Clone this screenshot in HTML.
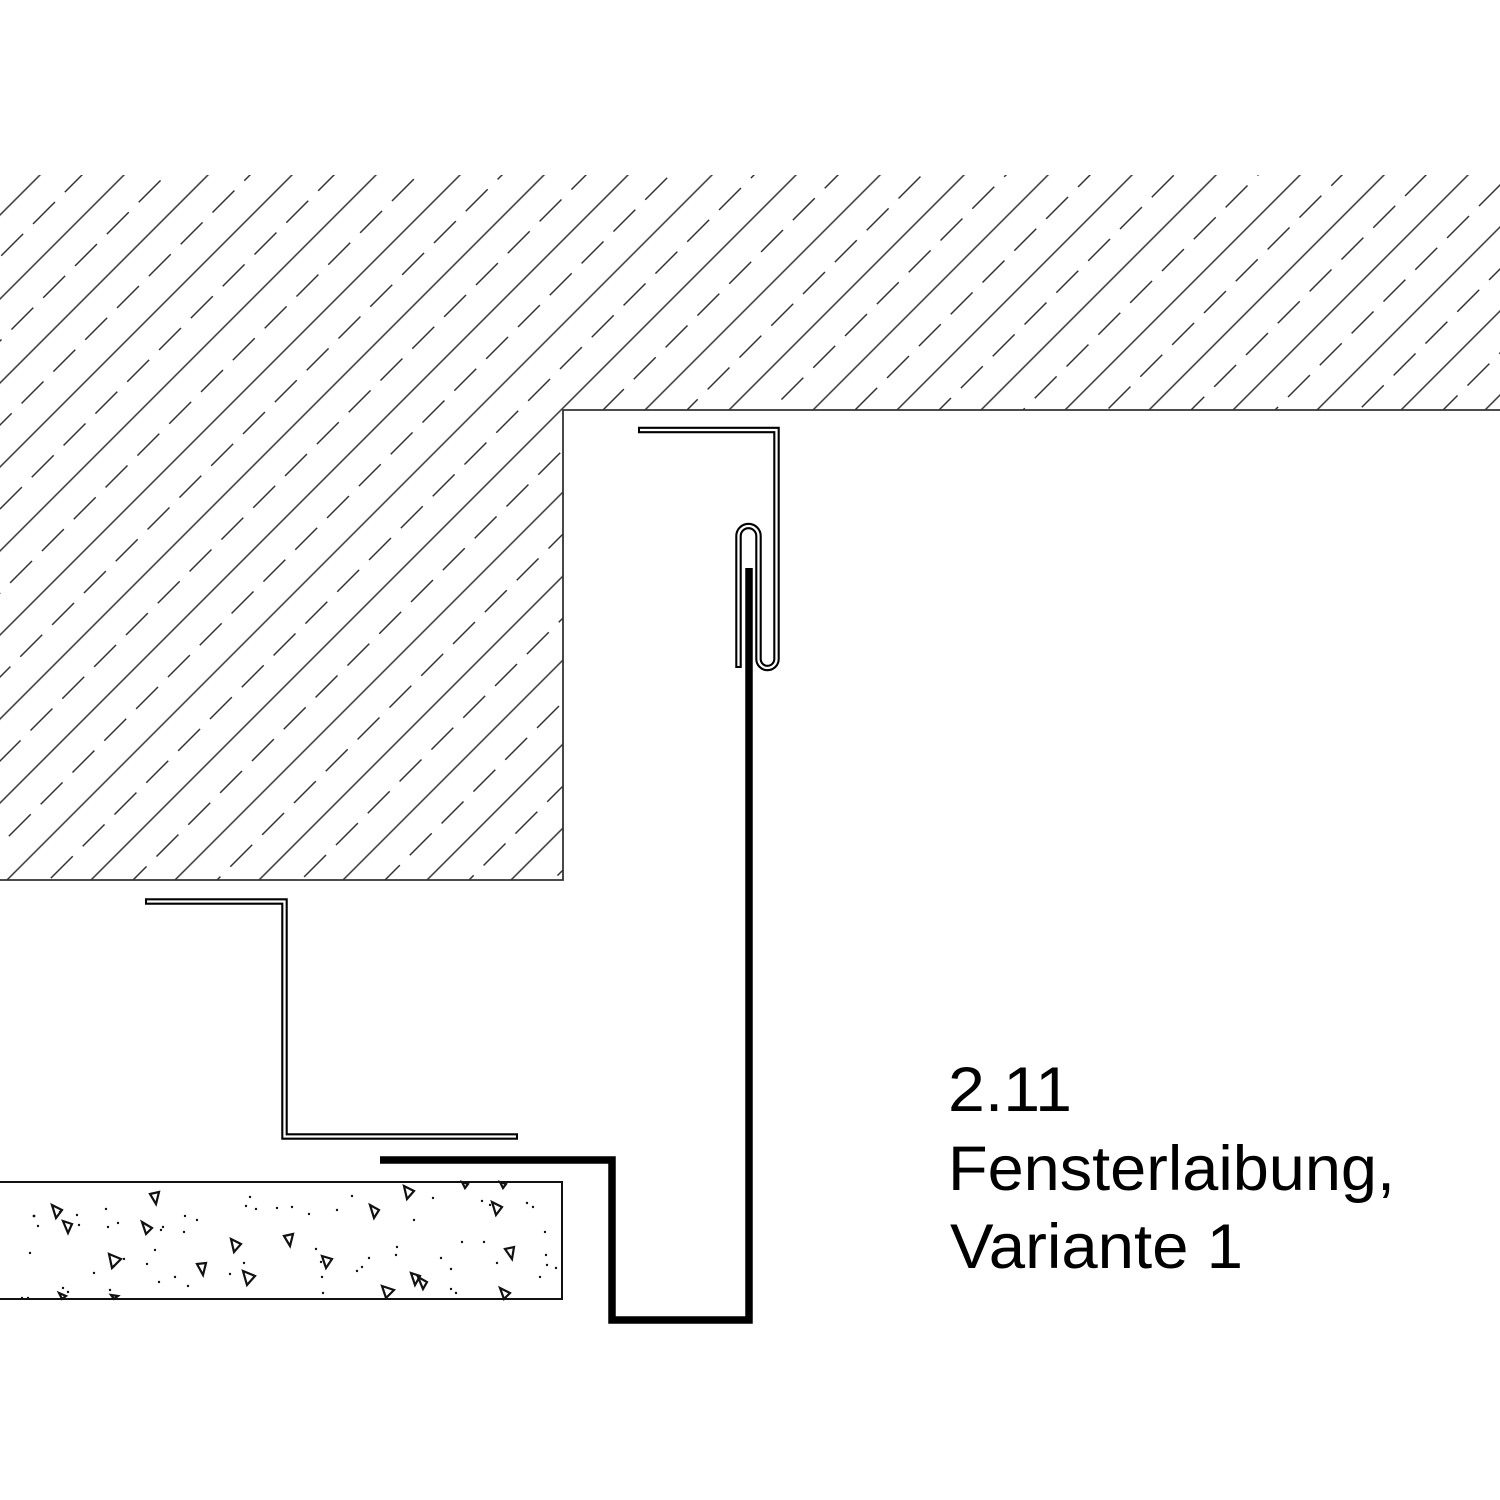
<!DOCTYPE html>
<html><head><meta charset="utf-8"><style>html,body{margin:0;padding:0;background:#fff}svg{display:block}</style></head>
<body>
<svg width="1500" height="1500" viewBox="0 0 1500 1500" xmlns="http://www.w3.org/2000/svg">
<defs>
<pattern id="h" patternUnits="userSpaceOnUse" width="45" height="59.4" y="33.2" patternTransform="rotate(-45)">
<line x1="-1" y1="0" x2="46" y2="0" stroke="#333" stroke-width="1.4"/>
<line x1="0" y1="29.7" x2="31" y2="29.7" stroke="#333" stroke-width="1.4"/>
<line x1="-1" y1="59.4" x2="46" y2="59.4" stroke="#333" stroke-width="1.4"/>
</pattern>
</defs>
<polygon points="0,175 1500,175 1500,410 563,410 563,880 0,880" fill="url(#h)"/>
<polyline points="1500,410 563,410 563,880 0,880" fill="none" stroke="#333" stroke-width="1.8"/>

<!-- concrete slab -->
<line x1="0" y1="1182" x2="563" y2="1182" stroke="#111" stroke-width="2"/>
<line x1="0" y1="1299" x2="563" y2="1299" stroke="#111" stroke-width="2"/>
<line x1="562" y1="1182" x2="562" y2="1299" stroke="#111" stroke-width="2"/>
<g fill="none" stroke="#111" stroke-width="2.2">
<polygon points="52,1205 62,1210 56,1218"/>
<polygon points="63,1221 72,1224 68,1233"/>
<polygon points="150,1194 159,1192 156,1204"/>
<polygon points="142,1222 152,1228 146,1234"/>
<polygon points="109,1254 121,1259 112,1268"/>
<polygon points="197,1264 206,1263 203,1275"/>
<polygon points="231,1239 241,1244 234,1252"/>
<polygon points="243,1271 255,1276 247,1285"/>
<polygon points="284,1236 293,1234 290,1246"/>
<polygon points="322,1256 332,1259 326,1268"/>
<polygon points="404,1186 414,1191 407,1199"/>
<polygon points="370,1205 379,1210 374,1218"/>
<polygon points="492,1202 502,1207 496,1215"/>
<polygon points="505,1249 514,1247 512,1259"/>
<polygon points="411,1273 420,1276 415,1285"/>
<polygon points="418,1277 427,1282 423,1289"/>
<polygon points="382,1286 394,1290 386,1298"/>
<polygon points="500,1288 510,1293 504,1299"/>
<polygon points="59,1293 66,1296 62,1299"/>
<polygon points="111,1295 118,1296 114,1299"/>
<polygon points="462,1182 468,1184 465,1188"/>
<polygon points="500,1182 506,1184 503,1188"/>
</g>
<g fill="#111">
<circle cx="34" cy="1216" r="1.4"/><circle cx="38" cy="1226" r="1.2"/><circle cx="60" cy="1212" r="1.2"/><circle cx="77" cy="1215" r="1.2"/><circle cx="79" cy="1225" r="1.2"/><circle cx="30" cy="1253" r="1.2"/><circle cx="22" cy="1298" r="1.2"/><circle cx="28" cy="1298" r="1.2"/>
<circle cx="106" cy="1209" r="1.2"/><circle cx="108" cy="1227" r="1.2"/><circle cx="118" cy="1223" r="1.2"/><circle cx="163" cy="1227" r="1.2"/><circle cx="161" cy="1230" r="1.2"/><circle cx="185" cy="1216" r="1.2"/><circle cx="197" cy="1220" r="1.2"/><circle cx="184" cy="1232" r="1.2"/>
<circle cx="124" cy="1259" r="1.2"/><circle cx="114" cy="1266" r="1.2"/><circle cx="147" cy="1264" r="1.2"/><circle cx="155" cy="1250" r="1.2"/><circle cx="63" cy="1288" r="1.2"/><circle cx="68" cy="1292" r="1.2"/><circle cx="94" cy="1273" r="1.2"/><circle cx="110" cy="1290" r="1.2"/>
<circle cx="159" cy="1282" r="1.2"/><circle cx="175" cy="1277" r="1.2"/><circle cx="188" cy="1286" r="1.2"/><circle cx="230" cy="1274" r="1.2"/><circle cx="244" cy="1263" r="1.2"/><circle cx="246" cy="1206" r="1.2"/><circle cx="250" cy="1197" r="1.2"/><circle cx="256" cy="1209" r="1.2"/>
<circle cx="277" cy="1208" r="1.2"/><circle cx="292" cy="1207" r="1.2"/><circle cx="309" cy="1214" r="1.2"/><circle cx="316" cy="1249" r="1.2"/><circle cx="323" cy="1293" r="1.2"/><circle cx="321" cy="1262" r="1.2"/><circle cx="322" cy="1277" r="1.2"/><circle cx="337" cy="1210" r="1.2"/>
<circle cx="352" cy="1196" r="1.2"/><circle cx="357" cy="1271" r="1.2"/><circle cx="362" cy="1267" r="1.2"/><circle cx="369" cy="1258" r="1.2"/><circle cx="397" cy="1247" r="1.2"/><circle cx="396" cy="1255" r="1.2"/><circle cx="414" cy="1220" r="1.2"/><circle cx="433" cy="1198" r="1.2"/>
<circle cx="441" cy="1258" r="1.2"/><circle cx="451" cy="1269" r="1.2"/><circle cx="451" cy="1289" r="1.2"/><circle cx="462" cy="1242" r="1.2"/><circle cx="482" cy="1201" r="1.2"/><circle cx="490" cy="1205" r="1.2"/><circle cx="484" cy="1242" r="1.2"/><circle cx="497" cy="1263" r="1.2"/>
<circle cx="527" cy="1203" r="1.2"/><circle cx="533" cy="1207" r="1.2"/><circle cx="545" cy="1232" r="1.2"/><circle cx="546" cy="1255" r="1.2"/><circle cx="547" cy="1265" r="1.2"/><circle cx="540" cy="1277" r="1.2"/><circle cx="556" cy="1268" r="1.2"/><circle cx="456" cy="1293" r="1.2"/>
</g>

<!-- lower left thin profile -->
<polyline points="145,901.5 284.5,901.5 284.5,1136.5 518,1136.5" fill="none" stroke="#000" stroke-width="6.5" stroke-linejoin="miter"/>
<polyline points="147,901.5 284.5,901.5 284.5,1136.5 516,1136.5" fill="none" stroke="#fff" stroke-width="2.3" stroke-linejoin="miter"/>

<!-- upper clip profile -->
<path d="M638,430 H776.5 V659 A9,9 0 0 1 758.5,659 V536 A10,10 0 0 0 738.5,536 V668" fill="none" stroke="#000" stroke-width="6.5"/>
<path d="M640,430 H776.5 V659 A9,9 0 0 1 758.5,659 V536 A10,10 0 0 0 738.5,536 V666" fill="none" stroke="#fff" stroke-width="2.3"/>

<!-- thick main profile -->
<polyline points="380,1160 612,1160 612,1320 749,1320 749,568" fill="none" stroke="#000" stroke-width="7.5" stroke-linejoin="miter"/>

<g font-family="Liberation Sans, Arial, sans-serif" font-size="63" fill="#000">
<text x="948" y="1111" textLength="124" lengthAdjust="spacingAndGlyphs">2.11</text>
<text x="948" y="1190" textLength="447" lengthAdjust="spacingAndGlyphs">Fensterlaibung,</text>
<text x="950" y="1268" textLength="293" lengthAdjust="spacingAndGlyphs">Variante 1</text>
</g>
</svg>
</body></html>
